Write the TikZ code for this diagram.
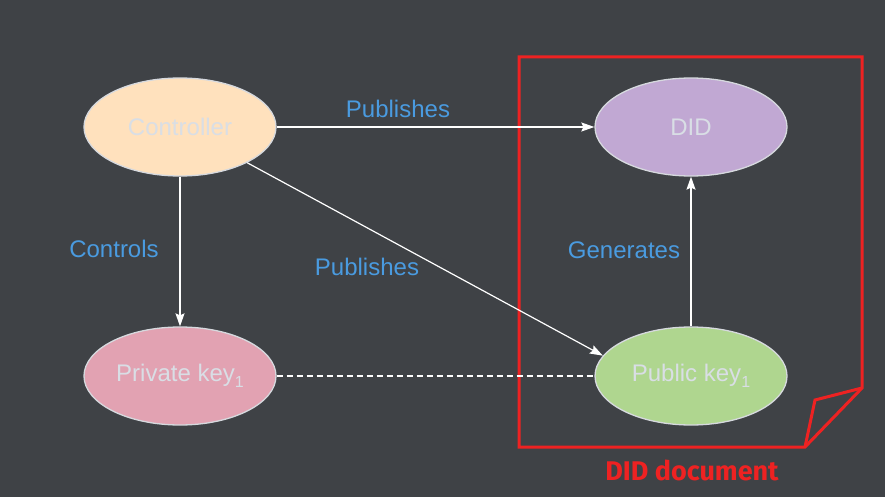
\documentclass[tikz,border=0pt]{standalone}
\usepackage{fontspec}
\setmainfont{Liberation Sans}
\newfontfamily\docfont{Fira Sans}
\usetikzlibrary{shapes.geometric,arrows.meta}
\definecolor{bgc}{HTML}{3F4246}
\definecolor{txtc}{HTML}{D9DEE5}
\definecolor{edgec}{HTML}{D6D9DE}
\definecolor{lblc}{HTML}{4A9BE0}
\definecolor{docred}{HTML}{EE2222}
\definecolor{ctrlc}{HTML}{FFE1BD}
\definecolor{didc}{HTML}{C1A8D3}
\definecolor{privc}{HTML}{E2A2B2}
\definecolor{pubc}{HTML}{AFD68F}
\newcommand{\subone}{\raisebox{-6pt}{\fontsize{16}{16}\selectfont 1}}
\begin{document}
\begin{tikzpicture}[x=1pt,y=-1pt,
  ent/.style={ellipse,draw=edgec,line width=1.3pt,minimum width=192pt,minimum height=98pt,inner sep=0pt,text=txtc,font=\fontsize{24}{28}\selectfont},
  conn/.style={draw=white,line width=1.2pt,-{Stealth[length=13pt,width=9pt,inset=2pt]}},
  lbl/.style={text=lblc,font=\fontsize{24}{28}\selectfont,inner sep=0pt}]
\fill[bgc] (0,0) rectangle (885,497);
\useasboundingbox (0,0) rectangle (885,497);
% document shape
\draw[docred,line width=3pt,line join=miter] (519,57) -- (862,57) -- (862,388) -- (805,447) -- (519,447) -- cycle;
\draw[docred,line width=3pt,line join=miter] (862,388) -- (815,400) -- (805,447);
\node[text=docred,font=\docfont\bfseries\fontsize{27}{30}\selectfont,inner sep=0pt] (doclbl) at (692,470) {DID document};
% nodes
\node[ent,fill=ctrlc] (ctrl) at (180,127) {Controller};
\node[ent,fill=didc] (did) at (691,127) {DID};
\node[ent,fill=privc] (priv) at (180,376) {Private key\subone};
\node[ent,fill=pubc] (pub) at (691,376) {Public key\subone};
% connectors
\draw[conn] (ctrl.east) -- (did.west);
\draw[conn] (ctrl.-28) -- (pub.167);
\draw[conn] (ctrl.south) -- (priv.north);
\draw[conn] (pub.north) -- (did.south);
\draw[white,line width=1.2pt,dash pattern=on 6pt off 4pt] (priv.east) -- (pub.west);
% labels
\node[lbl] (l1) at (398,109) {Publishes};
\node[lbl] (l2) at (367,267) {Publishes};
\node[lbl] (l3) at (114,249) {Controls};
\node[lbl] (l4) at (624,250) {Generates};
\end{tikzpicture}
\end{document}
